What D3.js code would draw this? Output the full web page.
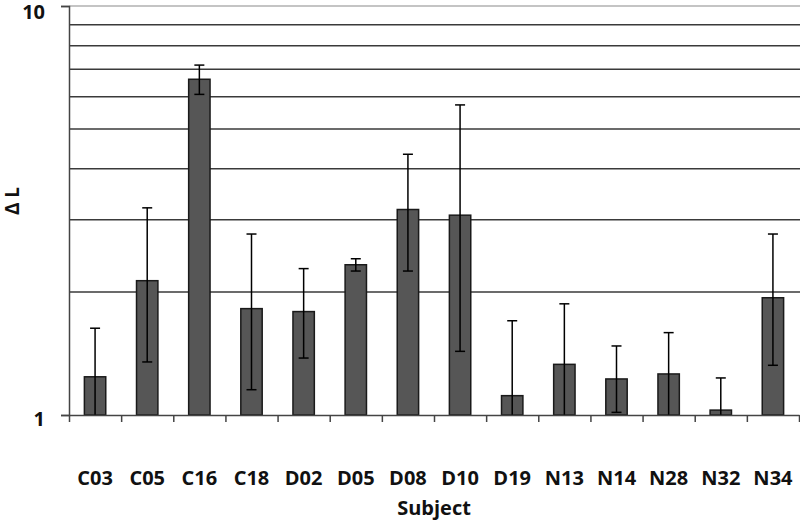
<!DOCTYPE html>
<html>
<head>
<meta charset="utf-8">
<script src="https://cdn.jsdelivr.net/npm/d3@7"></script>
<style>
  body { margin: 0; background: #fff; }
  text { font-family: "Open Sans", Lato, sans-serif; font-weight: bold; fill: #111; }
</style>
</head>
<body>
<div id="chart"></div>
<script>
// data
var subjects = ["C03", "C05", "C16", "C18", "D02", "D05", "D08", "D10", "D19", "N13", "N14", "N28", "N32", "N34"];
var meanValues = [1.24, 2.13, 6.62, 1.82, 1.79, 2.33, 3.18, 3.08, 1.115, 1.33, 1.225, 1.26, 1.028, 1.935];
var errHigh = [1.63, 3.21, 7.17, 2.77, 2.28, 2.41, 4.34, 5.73, 1.70, 1.87, 1.475, 1.59, 1.232, 2.77];
var errLow = [1, 1.348, 6.08, 1.153, 1.378, 2.249, 2.249, 1.431, 1, 1, 1.015, 1, 1, 1.323];
var gridValues = [2, 3, 4, 5, 6, 7, 8, 9];
var yTicks = [1, 10];

var width = 800, height = 522;
var plotLeft = 69, plotRight = 799, plotTop = 6, plotBottom = 415;

var svg = d3.select("#chart")
  .append("svg")
    .attr("width", width)
    .attr("height", height);

var x = d3.scaleBand()
  .domain(subjects)
  .range([plotLeft, plotRight])
  .padding(0);

var y = d3.scaleLog()
  .domain([1, 10])
  .range([plotBottom, plotTop]);

var barW = x.bandwidth() * 0.41;

// gridlines
svg.selectAll(".grid")
  .data(gridValues)
  .enter()
  .append("line")
    .attr("x1", plotLeft)
    .attr("x2", plotRight + 1)
    .attr("y1", function(d) { return y(d); })
    .attr("y2", function(d) { return y(d); })
    .attr("stroke", "#3a3a3a")
    .attr("stroke-width", 1.5);

// top line at 10
svg.append("line")
  .attr("x1", plotLeft).attr("x2", plotRight + 1)
  .attr("y1", y(10)).attr("y2", y(10))
  .attr("stroke", "#b0b0b0")
  .attr("stroke-width", 1.5);

// bars
svg.selectAll(".bar")
  .data(subjects)
  .enter()
  .append("rect")
    .attr("x", function(d) { return x(d) + (x.bandwidth() - barW) / 2; })
    .attr("y", function(d, i) { return y(meanValues[i]); })
    .attr("width", barW)
    .attr("height", function(d, i) { return y(1) - y(meanValues[i]); })
    .attr("fill", "#565656")
    .attr("stroke", "#1a1a1a")
    .attr("stroke-width", 1.5);

// error bars
var eb = svg.selectAll(".err")
  .data(subjects)
  .enter()
  .append("g")
    .attr("stroke", "#000")
    .attr("stroke-width", 1.5);

eb.append("line")
  .attr("x1", function(d) { return x(d) + x.bandwidth() / 2; })
  .attr("x2", function(d) { return x(d) + x.bandwidth() / 2; })
  .attr("y1", function(d, i) { return y(errHigh[i]); })
  .attr("y2", function(d, i) { return y(errLow[i]); });

eb.append("line")
  .attr("x1", function(d) { return x(d) + x.bandwidth() / 2 - 5; })
  .attr("x2", function(d) { return x(d) + x.bandwidth() / 2 + 5; })
  .attr("y1", function(d, i) { return y(errHigh[i]); })
  .attr("y2", function(d, i) { return y(errHigh[i]); });

eb.filter(function(d, i) { return errLow[i] > 1; })
  .append("line")
    .attr("x1", function(d) { return x(d) + x.bandwidth() / 2 - 5; })
    .attr("x2", function(d) { return x(d) + x.bandwidth() / 2 + 5; })
    .attr("y1", function(d) { return y(errLow[subjects.indexOf(d)]); })
    .attr("y2", function(d) { return y(errLow[subjects.indexOf(d)]); });

// Y axis
var yAxis = svg.append("g")
  .attr("transform", "translate(" + plotLeft + ",0)")
  .call(d3.axisLeft(y).tickValues(yTicks).tickFormat(d3.format("d")).tickSize(8).tickPadding(16));
yAxis.select(".domain").attr("stroke", "#444").attr("stroke-width", 1.5);
yAxis.selectAll(".tick line").attr("stroke", "#444").attr("stroke-width", 1.5);
yAxis.selectAll("text")
  .style("font-size", "20px")
  .attr("dy", function(d) { return d === 10 ? "0.62em" : "0.5em"; });

// X axis: tick marks at the band edges
var edges = d3.scaleLinear().domain([0, subjects.length]).range([plotLeft, plotRight]);
var xAxis = svg.append("g")
  .attr("transform", "translate(0," + plotBottom + ")")
  .call(d3.axisBottom(edges).ticks(subjects.length).tickFormat("").tickSize(7).tickSizeOuter(0));
xAxis.select(".domain").attr("stroke", "#444").attr("stroke-width", 1.5);
xAxis.selectAll(".tick line").attr("stroke", "#444").attr("stroke-width", 1.5);

// category labels
var xLabels = svg.append("g")
  .attr("transform", "translate(0," + plotBottom + ")")
  .call(d3.axisBottom(x).tickSize(0).tickPadding(56));
xLabels.select(".domain").remove();
xLabels.selectAll("text").style("font-size", "20px");

// axis titles
svg.append("text")
  .attr("x", (plotLeft + plotRight) / 2)
  .attr("y", 515)
  .attr("text-anchor", "middle")
  .style("font-size", "20px")
  .text("Subject");

svg.append("text")
  .attr("transform", "translate(19,201)rotate(-90)")
  .attr("text-anchor", "middle")
  .style("font-size", "19px")
  .text("Δ L");
</script>
</body>
</html>
